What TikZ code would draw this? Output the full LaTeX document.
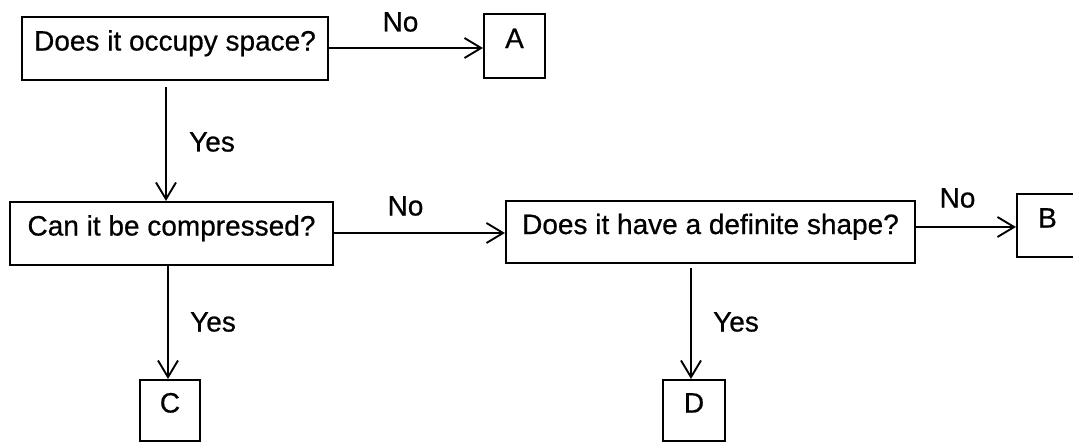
\documentclass[tikz,border=0pt]{standalone}
\usepackage{fontspec}
\newfontfamily\chartfont{Liberation Sans}[FakeBold=0.6]
\usetikzlibrary{arrows.meta}
\begin{document}
\begin{tikzpicture}[x=0.75pt,y=-0.75pt,
  box/.style={draw,line width=1.6pt,inner sep=0pt,
    font=\chartfont\fontsize{21}{24}\selectfont,
    text height=0.72em,text depth=0.42em},
  lbl/.style={inner sep=0pt,font=\chartfont\fontsize{21}{24}\selectfont},
  flow/.style={line width=1.4pt,
    -{Straight Barb[length=12.5pt,width=15pt,line width=1.4pt]}}]
\useasboundingbox (0,0) rectangle (1073,443);
% question boxes
\node[box,minimum width={306*0.75pt},minimum height={63*0.75pt}] (q1) at (175,48.5) {Does it occupy space?};
\node[box,minimum width={323*0.75pt},minimum height={63*0.75pt}] (q2) at (171.5,233.5) {Can it be compressed?};
\node[box,minimum width={409*0.75pt},minimum height={62*0.75pt}] (q3) at (710.5,232) {Does it have a definite shape?};
% answer boxes
\node[box,minimum width={61*0.75pt},minimum height={64*0.75pt}] (A) at (514.5,46) {A};
\node[box,minimum width={61*0.75pt},minimum height={63*0.75pt}] (B) at (1047.5,225.5) {B};
\node[box,minimum width={60*0.75pt},minimum height={61*0.75pt}] (C) at (170,410.5) {C};
\node[box,minimum width={62*0.75pt},minimum height={61*0.75pt}] (D) at (694,410.5) {D};
% free ends of the downward connectors
\coordinate (s1) at (166,87);
\coordinate (s3) at (691,268);
% connectors
\draw[flow] (q1.east |- 0,48) -- (A.west |- 0,48);
\draw[flow] (s1) -- (q2.north -| s1);
\draw[flow] (q2.east |- 0,233) -- (q3.west |- 0,233);
\draw[flow] (q3.east |- 0,227) -- (B.west |- 0,227);
\draw[flow] (q2.south -| 168,0) -- (C.north -| 168,0);
\draw[flow] (s3) -- (D.north -| s3);
% answer labels
\node[lbl] (n1) at (400.5,22) {No};
\node[lbl] (y1) at (212,142) {Yes};
\node[lbl] (n2) at (405.5,206) {No};
\node[lbl] (n3) at (957.5,198) {No};
\node[lbl] (y2) at (213,322) {Yes};
\node[lbl] (y3) at (736,322) {Yes};
\end{tikzpicture}
\end{document}
